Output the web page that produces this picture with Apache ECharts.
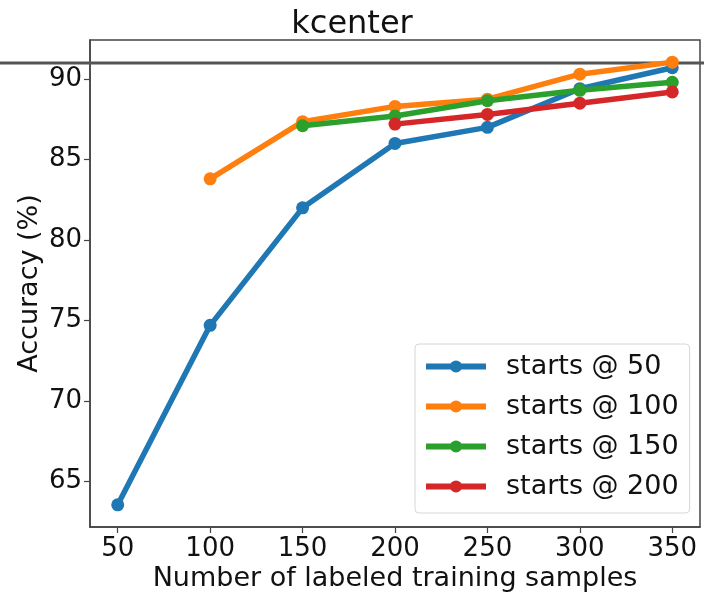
<!DOCTYPE html>
<html>
<head>
<meta charset="utf-8">
<script src="https://cdn.jsdelivr.net/npm/echarts@6/dist/echarts.min.js"></script>
<style>html,body{margin:0;padding:0;background:#fff}#c{width:704px;height:593px}</style>
</head>
<body>
<div id="c"></div>
<script>
// ---- data ----
const samples = [50, 100, 150, 200, 250, 300, 350];
const starts50  = [63.55, 74.7, 82.0, 86.0, 87.0, 89.4, 90.7];
const starts100 = [null, 83.8, 87.35, 88.3, 88.75, 90.3, 91.05];
const starts150 = [null, null, 87.1, 87.7, 88.65, 89.3, 89.8];
const starts200 = [null, null, null, 87.2, 87.8, 88.5, 89.2];
const seriesNames = ['starts @ 50', 'starts @ 100', 'starts @ 150', 'starts @ 200'];
const referenceLevel = 91.0;
const xTicks = [50, 100, 150, 200, 250, 300, 350];
const yTicks = [65, 70, 75, 80, 85, 90];

// ---- build ----
const allSeries = [starts50, starts100, starts150, starts200];
const colors = ['#1f77b4', '#ff7f0e', '#2ca02c', '#d62728'];
const allVals = allSeries.flat().filter(v => v != null).concat([referenceLevel]);
const yLo0 = Math.min(...allVals), yHi0 = Math.max(...allVals);
const yPad = 0.05 * (yHi0 - yLo0);
const yMin = yLo0 - yPad, yMax = yHi0 + yPad;
const xPad = 0.05 * (samples[samples.length - 1] - samples[0]);
const xMin = samples[0] - xPad, xMax = samples[samples.length - 1] + xPad;

const font = 'DejaVu Sans';
const gridTop = 40, gridBottom = 66;

const lineSeries = allSeries.map((arr, i) => ({
  name: seriesNames[i],
  type: 'line',
  xAxisIndex: 0, yAxisIndex: 0,
  data: samples.map((x, j) => arr[j] == null ? null : [x, arr[j]]).filter(d => d),
  symbol: 'circle',
  symbolSize: 13,
  lineStyle: { width: 5.5, color: colors[i] },
  itemStyle: { color: colors[i] },
  z: 3 + i,
  animation: false
}));

const chart = echarts.init(document.getElementById('c'), null, { renderer: 'canvas' });
chart.setOption({
  animation: false,
  title: {
    text: 'kcenter', left: 'center', top: 4,
    textStyle: { fontFamily: font, fontSize: 32, fontWeight: 'normal', color: '#111' }
  },
  legend: {
    data: seriesNames,
    left: 415, top: 344,
    orient: 'vertical',
    itemWidth: 60, itemHeight: 15, itemGap: 13,
    padding: [9, 11, 13, 8],
    backgroundColor: 'rgba(255,255,255,0.8)',
    borderColor: '#d6d6d6', borderWidth: 1, borderRadius: 4,
    lineStyle: { width: 6 },
    textStyle: { fontFamily: font, fontSize: 27, color: '#111', lineHeight: 27, padding: [0, 0, 0, 15] }
  },
  grid: [
    { left: 90, right: 4, top: gridTop, bottom: gridBottom, show: true, borderColor: '#444', borderWidth: 1.5, backgroundColor: 'transparent', containLabel: false, outerBoundsMode: 'none' },
    { left: 0, right: 0, top: gridTop, bottom: gridBottom, show: false, containLabel: false, outerBoundsMode: 'none' }
  ],
  xAxis: [
    {
      type: 'value', gridIndex: 0, min: xMin, max: xMax,
      name: 'Number of labeled training samples', nameLocation: 'middle', nameGap: 38, nameMoveOverlap: false,
      nameTextStyle: { fontFamily: font, fontSize: 27, color: '#111' },
      axisLine: { show: true, lineStyle: { color: '#444', width: 1.5 } },
      axisTick: { show: true, customValues: xTicks, length: 6, lineStyle: { color: '#444', width: 1.2 } },
      axisLabel: { customValues: xTicks, fontFamily: font, fontSize: 26, color: '#111', margin: 9 },
      splitLine: { show: false }
    },
    { type: 'value', gridIndex: 1, min: 0, max: 1, show: false }
  ],
  yAxis: [
    {
      type: 'value', gridIndex: 0, min: yMin, max: yMax,
      name: 'Accuracy (%)', nameLocation: 'middle', nameGap: 47, nameRotate: 90, nameMoveOverlap: false,
      nameTextStyle: { fontFamily: font, fontSize: 27, color: '#111' },
      axisLine: { show: true, lineStyle: { color: '#444', width: 1.5 } },
      axisTick: { show: true, customValues: yTicks, length: 6, lineStyle: { color: '#444', width: 1.2 } },
      axisLabel: { customValues: yTicks, fontFamily: font, fontSize: 26, color: '#111', margin: 8 },
      splitLine: { show: false }
    },
    { type: 'value', gridIndex: 1, min: yMin, max: yMax, show: false }
  ],
  series: [
    {
      name: 'reference', type: 'line', xAxisIndex: 1, yAxisIndex: 1,
      data: [[0, referenceLevel], [1, referenceLevel]],
      symbol: 'none', lineStyle: { color: '#555', width: 3 }, z: 2, silent: true
    }
  ].concat(lineSeries)
});
</script>
</body>
</html>
